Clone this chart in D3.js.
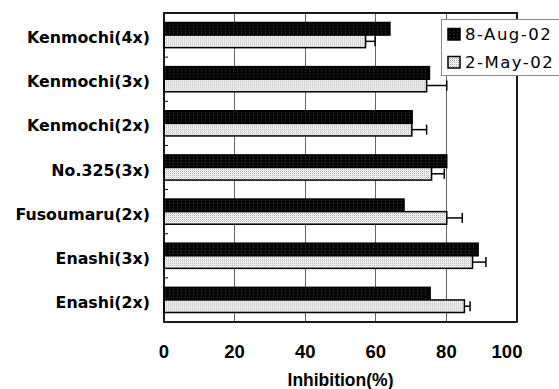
<!DOCTYPE html>
<html><head><meta charset="utf-8">
<script src="https://cdn.jsdelivr.net/npm/d3@7"></script>
<style>html,body{margin:0;padding:0;background:#fff;}svg{display:block;}</style>
</head><body>
<script>
const categories = ["Kenmochi(4x)","Kenmochi(3x)","Kenmochi(2x)","No.325(3x)","Fusoumaru(2x)","Enashi(3x)","Enashi(2x)"];
const seriesNames = ["8-Aug-02","2-May-02"];
const aug = [64, 75.2, 70.3, 80.1, 68.0, 89.0, 75.4];
const may = [57.1, 74.4, 70.2, 75.8, 80.1, 87.4, 85.1];
const mayErr = [2.7, 5.7, 4.2, 3.6, 4.4, 3.8, 1.6];
const xTicks = [0, 20, 40, 60, 80, 100];
const xTitle = "Inhibition(%)";

const W = 559, H = 389;
const m = {left: 164, right: 42, top: 13, bottom: 67};
const svg = d3.select("body").append("svg").attr("width", W).attr("height", H);
const defs = svg.append("defs");

// patterns
const pDark = defs.append("pattern").attr("id","pDark").attr("patternUnits","userSpaceOnUse").attr("width",4).attr("height",3);
pDark.append("rect").attr("width",4).attr("height",3).attr("fill","#050505");
pDark.append("rect").attr("x",1).attr("y",1).attr("width",1).attr("height",1).attr("fill","#3a3a3a");
const pLight = defs.append("pattern").attr("id","pLight").attr("patternUnits","userSpaceOnUse").attr("width",2).attr("height",2);
pLight.append("rect").attr("width",2).attr("height",2).attr("fill","#fff");
pLight.append("rect").attr("x",0).attr("y",0).attr("width",1).attr("height",1).attr("fill","#aaa");
pLight.append("rect").attr("x",1).attr("y",1).attr("width",1).attr("height",1).attr("fill","#ddd");

const x = d3.scaleLinear().domain([0,100]).range([m.left, W - m.right]);
const y = d3.scaleBand().domain(categories).range([m.top, H - m.bottom]).paddingInner(0.43).paddingOuter(0.215);
const yAll = d3.scaleBand().domain(categories).range([m.top, H - m.bottom]);
const ys = d3.scaleBand().domain(seriesNames).range([0, y.bandwidth()]);

const fills = {"8-Aug-02":"url(#pDark)","2-May-02":"url(#pLight)"};

// gridlines
svg.append("g").selectAll("line").data(xTicks.slice(1,-1)).join("line")
  .attr("x1", d=>x(d)).attr("x2", d=>x(d)).attr("y1", m.top).attr("y2", H - m.bottom)
  .attr("stroke","#666").attr("stroke-width",1).attr("shape-rendering","crispEdges");

// category boundary ticks
svg.append("g").selectAll("line").data(categories.slice(1)).join("line")
  .attr("x1", x(0)).attr("x2", x(0)+4).attr("y1", d=>yAll(d)).attr("y2", d=>yAll(d))
  .attr("stroke","#000").attr("stroke-width",1);

// bars
const rows = categories.map((c,i)=>({c, vals:[{s:"8-Aug-02", v:aug[i]},{s:"2-May-02", v:may[i], e:mayErr[i]}]}));
const g = svg.append("g").selectAll("g").data(rows).join("g").attr("transform", d=>`translate(0,${y(d.c)})`);
g.selectAll("rect").data(d=>d.vals).join("rect")
  .attr("x", x(0)).attr("y", d=>ys(d.s)).attr("width", d=>x(d.v)-x(0)).attr("height", ys.bandwidth())
  .attr("fill", d=>fills[d.s]).attr("stroke","#000").attr("stroke-width",1.5);

// error bars
const eb = g.selectAll("g.eb").data(d=>d.vals.filter(v=>v.e!=null)).join("g").attr("class","eb");
eb.append("line").attr("x1", d=>x(d.v)).attr("x2", d=>x(d.v+d.e))
  .attr("y1", d=>ys(d.s)+ys.bandwidth()/2).attr("y2", d=>ys(d.s)+ys.bandwidth()/2)
  .attr("stroke","#000").attr("stroke-width",1.5);
eb.append("line").attr("x1", d=>x(d.v+d.e)).attr("x2", d=>x(d.v+d.e))
  .attr("y1", d=>ys(d.s)+ys.bandwidth()/2-5).attr("y2", d=>ys(d.s)+ys.bandwidth()/2+5)
  .attr("stroke","#000").attr("stroke-width",1.5);

// plot border
svg.append("rect").attr("x", x(0)).attr("y", m.top).attr("width", x(100)-x(0)).attr("height", H-m.bottom-m.top)
  .attr("fill","none").attr("stroke","#000").attr("stroke-width",1.8);

// y labels
svg.append("g").selectAll("text").data(categories).join("text")
  .attr("x", 150).attr("y", d=>y(d)+y.bandwidth()/2+8)
  .attr("text-anchor","end").attr("font-family","DejaVu Sans").attr("font-weight","bold")
  .attr("font-size","15.8px").attr("fill","#000").text(d=>d);

// x tick labels
svg.append("g").selectAll("text").data(xTicks).join("text")
  .attr("x", d=>x(d)).attr("dx", (d,i)=> i===xTicks.length-1 ? -10 : 0).attr("y", 358)
  .attr("text-anchor","middle").attr("font-family","Liberation Sans").attr("font-weight","bold")
  .attr("font-size","18.5px").attr("fill","#000").text(d=>d);

// x title
svg.append("text").attr("x", (x(0)+x(100))/2).attr("y", 386).attr("text-anchor","middle")
  .attr("font-family","Liberation Sans").attr("font-weight","bold").attr("font-size","17.5px").text(xTitle);

// legend
const lg = svg.append("g");
lg.append("rect").attr("x",441.5).attr("y",19.5).attr("width",130).attr("height",56)
  .attr("fill","#fff").attr("stroke","#888").attr("stroke-width",1);
const li = lg.selectAll("g").data(seriesNames).join("g").attr("transform",(d,i)=>`translate(0,${i*28})`);
li.append("rect").attr("x",448).attr("y",28.5).attr("width",12).attr("height",11.5)
  .attr("fill", d=>fills[d]).attr("stroke","#000").attr("stroke-width",1.5);
li.append("text").attr("x",465).attr("y",40).attr("font-family","DejaVu Sans").attr("font-size","16.5px")
  .attr("letter-spacing","1.5px").attr("fill","#000").text(d=>d);
</script>
</body></html>
